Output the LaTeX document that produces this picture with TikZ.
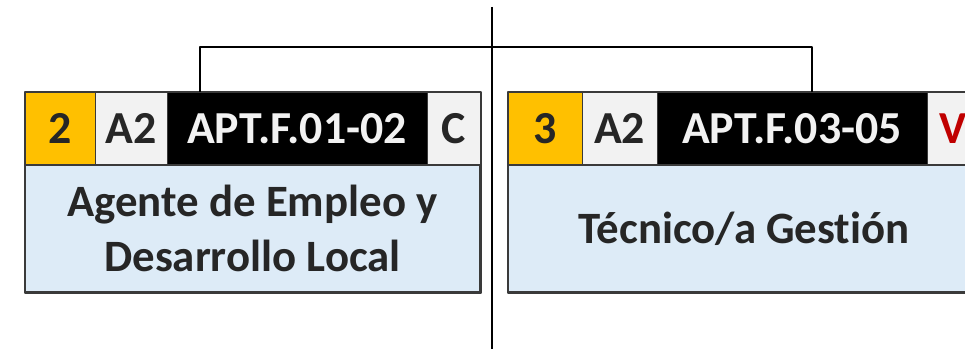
\documentclass[tikz,border=0pt]{standalone}
\usepackage{fontspec}
\setmainfont{Carlito}[Ligatures=NoCommon]
\definecolor{numyellow}{HTML}{FFC000}
\definecolor{cellgray}{HTML}{F2F2F2}
\definecolor{bodyblue}{HTML}{DDEBF7}
\definecolor{edgegray}{HTML}{3A3A3A}
\definecolor{inkgray}{HTML}{262626}
\definecolor{flagred}{HTML}{C00000}
\begin{document}
\begin{tikzpicture}[>=latex,line join=bevel,
  cell/.style={draw=edgegray,line width=0.8bp,inner sep=0pt,minimum height=73bp,text=inkgray,font=\bfseries\fontsize{46}{52}\selectfont},
  body/.style={draw=edgegray,line width=2bp,inner sep=0pt,minimum height=127bp,fill=bodyblue,text=inkgray,align=center,font=\bfseries\fontsize{45}{55}\selectfont},
  link/.style={black,line width=2.6bp}]
\useasboundingbox (0bp,0bp) rectangle (965bp,349bp);
\clip (0bp,0bp) rectangle (965bp,349bp);
%%
\node (num2) at (60bp,220.5bp) [cell,fill=numyellow,minimum width=70bp] {2};
  \node (grade2) at (131bp,220.5bp) [cell,fill=cellgray,minimum width=72bp] {A2};
  \node (code2) at (297bp,220.5bp) [cell,fill=black,text=cellgray,minimum width=260bp] {APT.F.01-02};
  \node (flag2) at (453.5bp,220.5bp) [cell,fill=cellgray,minimum width=53bp] {C};
  \node (title2) at (252.5bp,120.5bp) [body,minimum width=455bp] {Agente de Empleo y\\Desarrollo Local};
  \draw [edgegray,line width=2bp] (num2.north west) rectangle (title2.south east);
%
\node (num3) at (545bp,220.5bp) [cell,fill=numyellow,minimum width=74bp] {3};
  \node (grade3) at (619.5bp,220.5bp) [cell,fill=cellgray,minimum width=75bp] {A2};
  \node (code3) at (792bp,220.5bp) [cell,fill=black,text=cellgray,minimum width=270bp] {APT.F.03-05};
  \node (flag3) at (953.5bp,220.5bp) [cell,fill=cellgray,text=flagred,minimum width=53bp] {V};
  \node (title3) at (744bp,120.5bp) [body,minimum width=472bp] {Técnico/a Gestión};
  \draw [edgegray,line width=2bp] (num3.north west) rectangle (title3.south east);
%
\coordinate (trunktop) at (492bp,342bp);
  \coordinate (trunkbot) at (492bp,0bp);
  \coordinate (hub) at (492bp,302bp);
  \coordinate (drop2) at (200bp,257bp);
  \coordinate (drop3) at (812bp,257bp);
  \draw [link] (trunktop) -- (trunkbot);
  \draw [link] (drop2) |- (hub) -| (drop3);
%
\end{tikzpicture}
\end{document}
